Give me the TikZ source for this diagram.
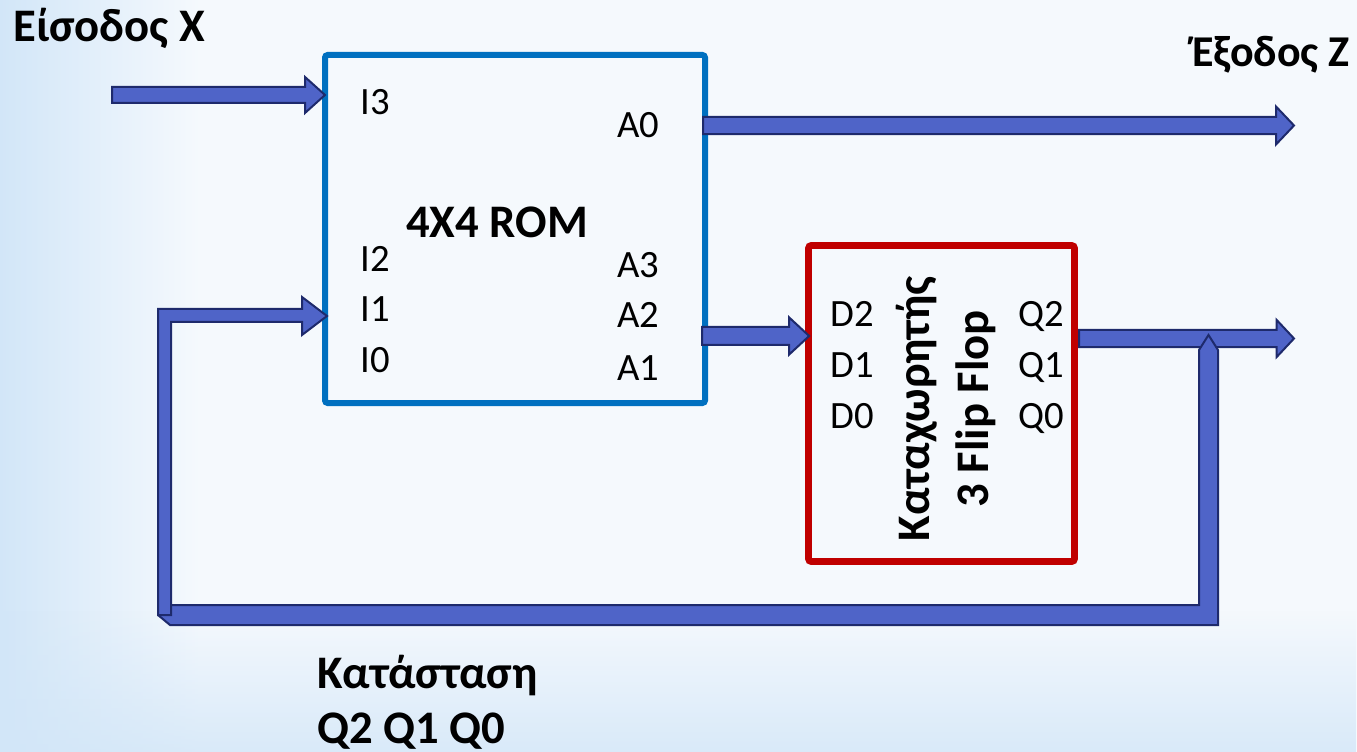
\documentclass[tikz,border=0pt]{standalone}
\usepackage{fontspec}
\setmainfont{Carlito}
\usetikzlibrary{calc,fadings}
\definecolor{romblue}{RGB}{0,112,192}
\definecolor{ffred}{RGB}{192,0,0}
\definecolor{afill}{RGB}{79,100,200}
\definecolor{aline}{RGB}{30,42,108}
\definecolor{bgW}{RGB}{245,249,253}
\definecolor{bgL}{RGB}{210,230,248}
\newcommand\hblockarrow[5]{%
  \path[blockarrow] let \p1=(#1), \p2=(#2) in
    (\x1,\y1+#3) -- (\x2-#5,\y1+#3) -- (\x2-#5,\y1+#4) -- (\x2,\y1)
    -- (\x2-#5,\y1-#4) -- (\x2-#5,\y1-#3) -- (\x1,\y1-#3) -- cycle;}
\begin{document}
\begin{tikzpicture}[x=0.75pt,y=-0.75pt,
  blockarrow/.style={fill=afill, draw=aline, line width=1.5pt, line join=miter},
  lbl/.style={font=\fontsize{29}{35}\selectfont, inner sep=0pt, text=black, anchor=base west},
  ttl/.style={font=\fontsize{33}{40}\selectfont\bfseries, inner sep=0pt, text=black},
  big/.style={font=\fontsize{35}{44}\selectfont\bfseries, inner sep=0pt, text=black}]

\useasboundingbox (0,0) rectangle (1357,752);
% background
\fill[bgW] (0,0) rectangle (1357,752);
\shade[left color=bgL, right color=bgW] (0,0) rectangle (200,752);
\fill[bgL, path fading=north, opacity=0.8] (0,610) rectangle (1357,752);

% blocks
\node[draw=romblue, line width=4.5pt, rounded corners=2pt, minimum width=285pt,
      minimum height=261pt, inner sep=0pt] (rom) at (515,229) {};
\node[draw=ffred, line width=5pt, rounded corners=2pt, minimum width=199.5pt,
      minimum height=237pt, inner sep=0pt] (ff) at (941.5,403.5) {};

% straight arrows
\coordinate (xin) at (112,95);
\hblockarrow{xin}{$(rom.west|-xin)+(3,0)$}{6pt}{13.5pt}{15pt}
\coordinate (a0) at (703,125.5);
\coordinate (zout) at (1294,125.5);
\hblockarrow{a0}{zout}{6.4pt}{14.25pt}{13.5pt}
\coordinate (a2) at (702,336);
\hblockarrow{a2}{$(ff.west|-a2)+(4,0)$}{6.75pt}{13.9pt}{15pt}
\coordinate (q) at (1079,338.5);
\coordinate (qout) at (1294,338.5);
\hblockarrow{q}{qout}{6.4pt}{13.9pt}{13pt}

% feedback path
\path[blockarrow] (158,605) -- (1199,605) -- (1199,350) -- (1208.5,335) -- (1218,350)
   -- (1218,625) -- (170,625) -- (158,615) -- cycle;
\path[blockarrow] (158,615) -- (158,309) -- (302,309) -- (302,297) -- (327,316)
   -- (302,335) -- (302,322) -- (171,322) -- (171,615) -- cycle;

% titles
\node[big, anchor=base west] (tx) at (13,42) {Είσοδος X};
\node[ttl, anchor=base east] (tz) at (1350,67) {Έξοδος Z};
\node[big, anchor=base west] (ts1) at (317,688) {Κατάσταση};
\node[big, anchor=base west] (ts2) at (317,743) {Q2 Q1 Q0};
\node[big, anchor=base west] (trom) at (406,238) {4X4 ROM};
\node[big, rotate=90, align=center] (tff) at (946,409) {Καταχωρητής\\3 Flip Flop};

% port labels
\node[lbl] (i3) at (360,115) {I3};
\node[lbl] (i2) at (360,272) {I2};
\node[lbl] (i1) at (360,322) {I1};
\node[lbl] (i0) at (360,373) {I0};
\node[lbl] (la0) at (617,138) {A0};
\node[lbl] (la3) at (617,278) {A3};
\node[lbl] (la2) at (617,328) {A2};
\node[lbl] (la1) at (617,380) {A1};
\node[lbl] (d2) at (830,327) {D2};
\node[lbl] (d1) at (830,378) {D1};
\node[lbl] (d0) at (830,428) {D0};
\node[lbl] (q2) at (1018,327) {Q2};
\node[lbl] (q1) at (1018,378) {Q1};
\node[lbl] (q0) at (1018,428) {Q0};
\end{tikzpicture}
\end{document}
